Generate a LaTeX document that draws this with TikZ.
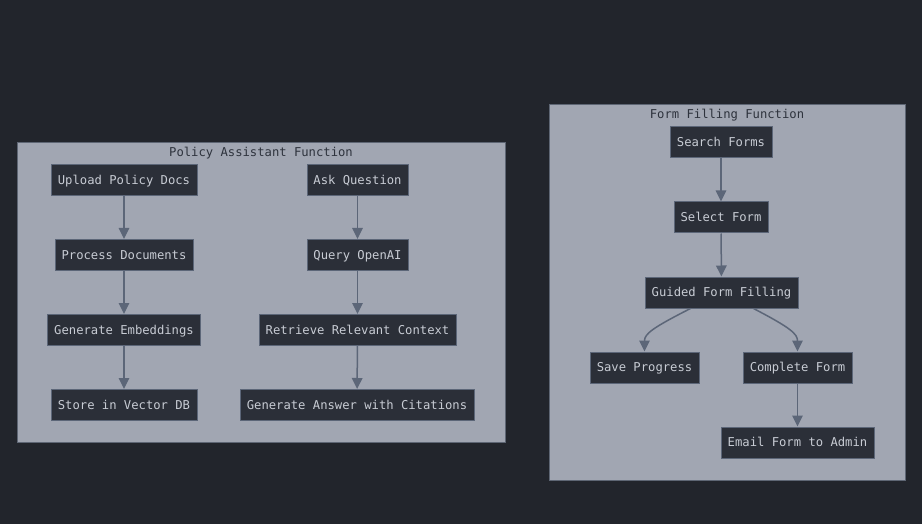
\documentclass[tikz,border=0pt]{standalone}
\usepackage{fontspec}
\setmonofont{DejaVu Sans Mono}
\usetikzlibrary{arrows.meta}
\definecolor{bgc}{HTML}{22252C}
\definecolor{clfill}{HTML}{A1A6B2}
\definecolor{clborder}{HTML}{5E6674}
\definecolor{nfill}{HTML}{2B2F38}
\definecolor{nborder}{HTML}{5C6678}
\definecolor{ntext}{HTML}{C8CCD4}
\definecolor{ttext}{HTML}{2E333D}
\definecolor{edgec}{HTML}{5C6678}
\tikzset{
  box/.style={draw=nborder, line width=1pt, fill=nfill, text=ntext, inner sep=0pt,
    text height=10.5pt, text depth=2pt,
    minimum height=31pt, font=\fontsize{12.2pt}{14pt}\selectfont\ttfamily, anchor=center},
  cluster/.style={draw=clborder, line width=1pt, fill=clfill},
  ctitle/.style={text=ttext, font=\fontsize{12.2pt}{14pt}\selectfont\ttfamily, inner sep=0pt,
    text height=10.5pt, text depth=2pt},
  flow/.style={draw=edgec, line width=1.5pt, -{Triangle[width=10.5pt,length=11pt]}}
}
\begin{document}
\begin{tikzpicture}[x=1pt,y=-1pt]
\fill[bgc] (0,0) rectangle (922,524);
\useasboundingbox (0,0) rectangle (922,524);
% clusters
\draw[cluster] (17,143) rectangle (505,442);
\draw[cluster] (549,105) rectangle (905,480);
\node[ctitle] (t1) at (261,152) {Policy Assistant Function};
\node[ctitle] (t2) at (727,114) {Form Filling Function};
% left column
\node[box, minimum width=146pt] (upload) at (124,180) {Upload Policy Docs};
\node[box, minimum width=138pt] (process) at (124,255) {Process Documents};
\node[box, minimum width=153pt] (embed) at (124,330) {Generate Embeddings};
\node[box, minimum width=146pt] (store) at (124,405) {Store in Vector DB};
% middle column
\node[box, minimum width=101pt] (ask) at (357.5,180) {Ask Question};
\node[box, minimum width=101pt] (query) at (357.5,255) {Query OpenAI};
\node[box, minimum width=197pt] (retrieve) at (357.5,330) {Retrieve Relevant Context};
\node[box, minimum width=234pt] (answer) at (357,405) {Generate Answer with Citations};
% right cluster
\node[box, minimum width=102pt] (search) at (721,142.5) {Search Forms};
\node[box, minimum width=94pt] (select) at (721,217.5) {Select Form};
\node[box, minimum width=153pt] (guided) at (721.5,292.5) {Guided Form Filling};
\node[box, minimum width=109pt] (save) at (644.5,367.5) {Save Progress};
\node[box, minimum width=109pt] (complete) at (797.5,367.5) {Complete Form};
\node[box, minimum width=153pt] (email) at (797.5,442.5) {Email Form to Admin};
% edges
\draw[flow] (upload) -- (process);
\draw[flow] (process) -- (embed);
\draw[flow] (embed) -- (store);
\draw[flow] (ask) -- (query);
\draw[flow] (query) -- (retrieve);
\draw[flow] (retrieve) -- (answer);
\draw[flow] (search) -- (select);
\draw[flow] (select) -- (guided);
\draw[flow] ([xshift=-31pt]guided.south) .. controls (652,328) and (644.5,334) .. (save.north);
\draw[flow] ([xshift=32pt]guided.south) .. controls (791,328) and (797.5,334) .. (complete.north);
\draw[flow] (complete) -- (email);
\end{tikzpicture}
\end{document}
